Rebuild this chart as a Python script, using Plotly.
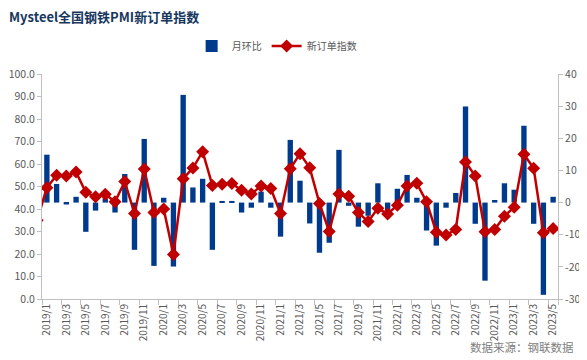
import plotly.graph_objects as go

# Categories (2018/12 is only the hidden lead-in point of the line)
months = ["2018/12"] + [f"{y}/{m}" for y in range(2019, 2024) for m in range(1, 13)][:53]

mom_change = [  # 月环比 (right axis), 2019/1 .. 2023/5
    14.9, 5.8, -0.6, 1.8, -9.1, -2.5, 1.3, -3.1, 8.9, -14.7, 19.8, -19.7,
    1.5, -19.9, 33.5, 4.7, 7.4, -14.7, 0.5, 0.5, -3.1, -1.6, 3.4, -1.6,
    -10.6, 19.5, 6.8, -6.5, -15.6, -12.5, 16.4, -1.0, -7.5, -4.1, 6.0, -4.1,
    4.3, 8.6, 1.5, -8.7, -13.4, -1.6, 3.0, 29.9, -6.6, -24.3, 0.8, 6.0,
    4.0, 23.9, -6.6, -28.7, 1.8,
]

new_orders = [  # 新订单指数 (left axis), 2018/12 .. 2023/5
    35.0,
    49.5, 55.0, 54.7, 56.4, 47.4, 45.4, 46.6, 43.2, 52.2, 38.0, 57.8, 38.5,
    40.0, 19.8, 53.5, 58.2, 65.5, 50.5, 51.0, 51.3, 48.3, 46.7, 50.2, 49.1,
    38.0, 57.9, 64.6, 58.3, 42.5, 30.0, 46.7, 45.7, 38.4, 34.4, 40.3, 37.8,
    41.7, 50.2, 51.4, 43.2, 29.7, 28.4, 30.9, 60.9, 54.7, 29.9, 30.9, 36.8,
    40.8, 64.3, 58.1, 29.4, 31.3,
]

tick_labels = months[1::2]
right_ticks = [-30, -20, -10, 0, 10, 20, 30, 40]
right_tick_text = ["-30", "-20", "-10", "0", "10", "20", "30", "40"]

title_text = "Mysteel全国钢铁PMI新订单指数"
source_text = "数据来源：钢联数据"

GRAY = "#595959"
AXIS = "#BFBFBF"
FONT = "Noto Sans CJK SC"

fig = go.Figure()
fig.add_trace(go.Bar(
    x=months[1:], y=mom_change, name="月环比",
    marker=dict(color="#003A8C", line=dict(width=0)),
    width=0.55, yaxis="y",
))
fig.add_trace(go.Scatter(
    x=months, y=new_orders, name="新订单指数", mode="lines+markers",
    line=dict(color="#C00000", width=2.5),
    marker=dict(symbol="diamond", size=10, color="#C00000"),
    yaxis="y2", cliponaxis=True,
))

fig.update_layout(
    width=579, height=352,
    margin=dict(l=34, r=29, t=66, b=61, autoexpand=False),
    paper_bgcolor="white", plot_bgcolor="white",
    font=dict(family=FONT, color=GRAY, size=10),
    showlegend=True,
    legend=dict(orientation="h", x=0.29, y=1.125, xanchor="left", yanchor="middle",
                font=dict(size=10, color=GRAY), itemwidth=30,
                traceorder="normal", bgcolor="rgba(0,0,0,0)"),
    bargap=0.45,
    xaxis=dict(
        type="category", categoryorder="array", categoryarray=months,
        range=[0.5, 53.5],
        tickmode="array", tickvals=tick_labels, ticktext=tick_labels,
        tickangle=-90, tickson="boundaries",
        ticks="outside", ticklen=5, tickcolor=AXIS,
        showline=True, linecolor=AXIS, linewidth=1,
        showgrid=False, zeroline=False, automargin=False,
        tickfont=dict(size=10, color=GRAY, family=FONT),
    ),
    yaxis=dict(
        side="right", range=[-30, 40],
        tickmode="array", tickvals=right_ticks, ticktext=right_tick_text,
        ticks="outside", ticklen=4, tickcolor=AXIS,
        showline=True, linecolor=AXIS, linewidth=1,
        showgrid=False, zeroline=False, automargin=False,
        tickfont=dict(size=10.5, color=GRAY, family=FONT),
    ),
    yaxis2=dict(
        side="left", overlaying="y", range=[0, 100], dtick=10,
        tickformat=".1f",
        ticks="outside", ticklen=4, tickcolor=AXIS,
        showline=True, linecolor=AXIS, linewidth=1,
        showgrid=False, zeroline=False, automargin=False,
        tickfont=dict(size=10.5, color=GRAY, family=FONT),
    ),
    annotations=[
        dict(text=f"<b>{title_text}</b>", xref="paper", yref="paper",
             x=-0.068, y=1.256, xanchor="left", yanchor="middle", showarrow=False,
             font=dict(size=13, color="#17375E", family=FONT)),
        dict(text=source_text, xref="paper", yref="paper",
             x=1.035, y=-0.215, xanchor="right", yanchor="middle", showarrow=False,
             font=dict(size=11.5, color="#808080", family=FONT)),
    ],
)

fig.write_html("out.html")
